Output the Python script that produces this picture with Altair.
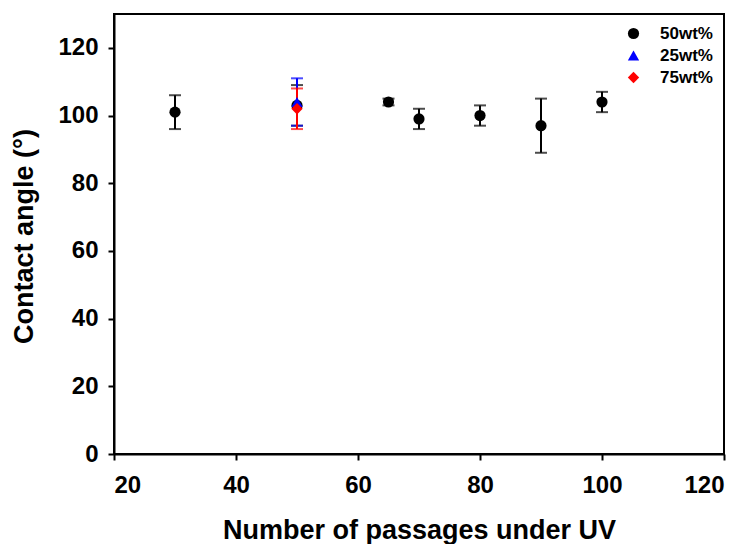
import altair as alt
import pandas as pd

# Data
series_names = ["50wt%", "25wt%", "75wt%"]
series_colors = ["#000000", "#0000ff", "#ff0000"]
series_shapes = ["circle", "triangle-up", "diamond"]
series_sizes = [125, 130, 180]

x_50 = [30, 50, 65, 70, 80, 90, 100]
y_50 = [101, 103, 104, 99, 100, 97, 104]
err_50 = [5, 6, 1, 3, 3, 8, 3]

x_25 = [50]
y_25 = [104]
err_25 = [7]

x_75 = [50]
y_75 = [102]
err_75 = [6]

x_ticks = [20, 40, 60, 80, 100, 120]
y_ticks = [0, 20, 40, 60, 80, 100, 120]

rows = []
for name, xs, ys, es in [("50wt%", x_50, y_50, err_50),
                         ("25wt%", x_25, y_25, err_25),
                         ("75wt%", x_75, y_75, err_75)]:
    for xv, yv, ev in zip(xs, ys, es):
        rows.append({"series": name, "x": xv, "y": yv,
                     "lo": yv - ev, "hi": yv + ev,
                     "order": series_names.index(name)})
df = pd.DataFrame(rows)

FONT = "Liberation Sans"

xscale = alt.Scale(domain=[20, 120], nice=False, zero=False)
yscale = alt.Scale(domain=[0, 130], nice=False)

xenc = alt.X("x:Q", scale=xscale,
             axis=alt.Axis(values=x_ticks, title="Number of passages under UV",
                           titleX=305, titleY=84, titleBaseline="alphabetic",
                           labelPadding=13))
yenc = alt.Y("y:Q", scale=yscale,
             axis=alt.Axis(values=y_ticks, title="Contact angle (°)",
                           titleX=-90, titleY=222, titleAngle=-90,
                           titleAlign="center", titleBaseline="middle",
                           labelPadding=10))

base = alt.Chart(df)

layers = []
for name, col in zip(series_names, series_colors):
    sub = base.transform_filter(alt.datum.series == name)
    layers.append(sub.mark_rule(strokeWidth=2, color=col).encode(
        x=xenc, y=alt.Y("lo:Q", scale=yscale), y2="hi:Q"))
    layers.append(sub.mark_tick(orient="horizontal", size=12, thickness=2, color=col).encode(
        x=xenc, y=alt.Y("lo:Q", scale=yscale)))
    layers.append(sub.mark_tick(orient="horizontal", size=12, thickness=2, color=col).encode(
        x=xenc, y=alt.Y("hi:Q", scale=yscale)))

legend = alt.Legend(title=None, orient="none", legendX=511, legendY=11,
                    labelFont=FONT, labelFontSize=17, labelFontWeight="bold",
                    labelColor="black", labelOffset=18, rowPadding=4,
                    symbolStrokeWidth=0)

points = base.mark_point(filled=True, opacity=1).encode(
    x=xenc,
    y=yenc,
    color=alt.Color("series:N", scale=alt.Scale(domain=series_names, range=series_colors), legend=legend),
    shape=alt.Shape("series:N", scale=alt.Scale(domain=series_names, range=series_shapes), legend=legend),
    size=alt.Size("series:N", scale=alt.Scale(domain=series_names, range=series_sizes), legend=legend),
    order="order:Q",
)

chart = alt.layer(*layers, points).properties(
    width=610, height=440,
    autosize=alt.AutoSizeParams(type="none"),
    padding={"left": 106, "top": 6, "right": 10, "bottom": 90},
).configure_view(
    stroke="black", strokeWidth=2
).configure_axis(
    grid=False,
    labelFont=FONT, labelFontSize=24, labelFontWeight="bold", labelColor="black",
    titleFont=FONT, titleFontSize=27, titleFontWeight="bold", titleColor="black",
    domainColor="black", domainWidth=2,
    tickColor="black", tickWidth=2, tickSize=6,
)

chart.save("out.html", embed_options={"renderer": "svg", "actions": False})
